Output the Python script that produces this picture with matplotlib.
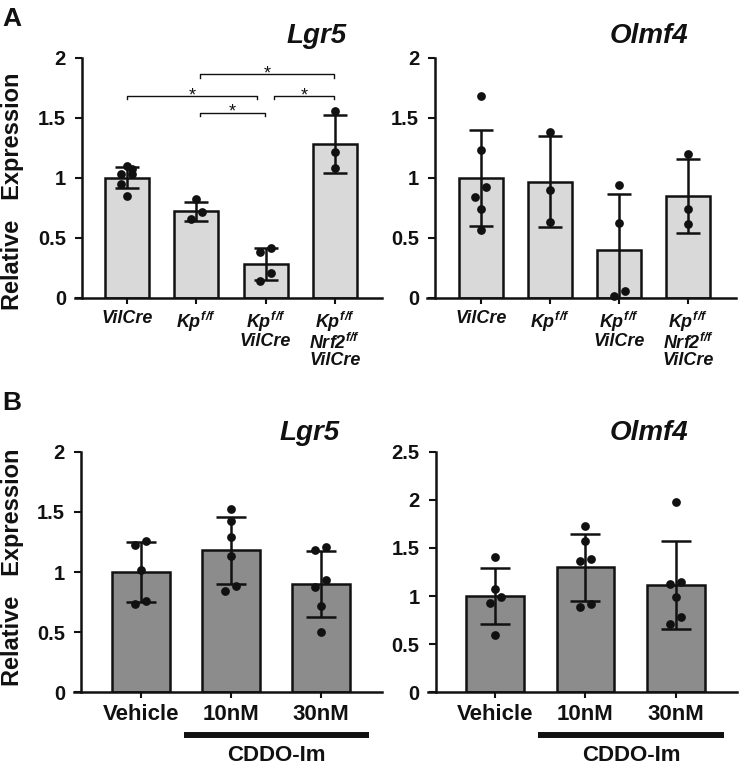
import matplotlib
matplotlib.use('Agg')
import matplotlib.pyplot as plt
import matplotlib.transforms as mtransforms
import numpy as np

plt.rcParams.update({
    'font.family': ['Liberation Sans', 'DejaVu Sans'],
    'mathtext.fontset': 'custom',
    'mathtext.rm': 'Liberation Sans:bold:italic',
    'mathtext.it': 'Liberation Sans:bold:italic',
    'mathtext.bf': 'Liberation Sans:bold:italic',
    'mathtext.sf': 'Liberation Sans:bold:italic',
})

# ---------------- data ----------------
a_groups = ['VilCre', '$Kp^{f/f}$', '$Kp^{f/f}$\nVilCre', '$Kp^{f/f}$\n$Nrf2^{f/f}$\nVilCre']
a_lgr5_mean = [1.00, 0.72, 0.28, 1.28]
a_lgr5_sd = [0.09, 0.08, 0.13, 0.245]
a_lgr5_pts = [[1.097, 1.069, 1.03, 1.027, 0.947, 0.85],
              [0.819, 0.716, 0.655],
              [0.411, 0.378, 0.203, 0.142],
              [1.557, 1.216, 1.082]]
a_lgr5_sig_pairs = [(1, 3), (0, 2), (2, 3), (1, 2)]
a_lgr5_sig_heights = [1.86, 1.68, 1.68, 1.54]

a_olmf4_mean = [1.00, 0.965, 0.40, 0.845]
a_olmf4_sd = [0.40, 0.38, 0.46, 0.31]
a_olmf4_pts = [[1.679, 1.227, 0.922, 0.836, 0.741, 0.564],
               [1.377, 0.897, 0.633],
               [0.938, 0.625, 0.056, 0.017],
               [1.196, 0.736, 0.616]]

b_groups = ['Vehicle', '10nM', '30nM']
b_lgr5_mean = [1.00, 1.18, 0.90]
b_lgr5_sd = [0.25, 0.28, 0.275]
b_lgr5_pts = [[1.26, 1.224, 1.014, 0.756, 0.734],
              [1.524, 1.424, 1.288, 1.133, 0.886, 0.845],
              [1.205, 1.183, 0.934, 0.873, 0.717, 0.501]]
b_olmf4_mean = [1.00, 1.30, 1.115]
b_olmf4_sd = [0.29, 0.35, 0.455]
b_olmf4_pts = [[1.403, 1.077, 0.994, 0.925, 0.595],
               [1.731, 1.575, 1.382, 1.364, 0.914, 0.889],
               [1.981, 1.146, 1.122, 0.994, 0.779, 0.706]]

a_yticks = [0, 0.5, 1, 1.5, 2]
a_yticklabels = ['0', '0.5', '1', '1.5', '2']
b_olmf4_yticks = [0, 0.5, 1, 1.5, 2, 2.5]
b_olmf4_yticklabels = ['0', '0.5', '1', '1.5', '2', '2.5']
treatment_label = 'CDDO-Im'

# ---------------- figure ----------------
W, H = 750, 771
fig = plt.figure(figsize=(W / 100, H / 100), dpi=100)
INK = '#111111'
LW = 1.8


def px_axes(l, t, r, b):
    return fig.add_axes([l / W, 1 - b / H, (r - l) / W, (b - t) / H])


def panel(ax, labels, means, sds, pts, xlim, ylim, yticks, yticklabels, spine_x,
          color, width, capsize, xfs, xstyle):
    x = np.arange(len(labels))
    ax.set_xlim(*xlim)
    ax.set_ylim(*ylim)
    ax.bar(x, means, width=width, color=color, edgecolor=INK, linewidth=LW, zorder=2)
    ax.errorbar(x, means, yerr=sds, fmt='none', ecolor=INK, elinewidth=LW,
                capsize=capsize, capthick=LW, zorder=3)
    # dot placement: pair close points side by side (swarm-like)
    bb = ax.get_position()
    xpx = bb.width * W / (xlim[1] - xlim[0])
    ypx = bb.height * H / (ylim[1] - ylim[0])
    thresh = 11.0
    off = 5.5 / xpx
    for i, vals in enumerate(pts):
        v = sorted(vals)
        xs, ys = [], []
        k = 0
        while k < len(v):
            if k + 1 < len(v) and (v[k + 1] - v[k]) * ypx < thresh:
                xs += [i - off, i + off]
                ys += [v[k], v[k + 1]]
                k += 2
            else:
                xs.append(i)
                ys.append(v[k])
                k += 1
        ax.plot(xs, ys, 'o', color=INK, markersize=6.3, markeredgewidth=0,
                zorder=4, clip_on=False)
    for s in ['top', 'right']:
        ax.spines[s].set_visible(False)
    ax.spines['left'].set_position(('data', spine_x))
    ax.spines['left'].set_bounds(ylim[0], ylim[1])
    for s in ['left', 'bottom']:
        ax.spines[s].set_linewidth(LW)
        ax.spines[s].set_color(INK)
    ax.set_yticks(yticks)
    ax.set_yticklabels(yticklabels, fontsize=14.5, fontweight='bold', color=INK)
    ax.set_xticks(x)
    ax.set_xticklabels(labels, fontsize=xfs, fontweight='bold', fontstyle=xstyle,
                       linespacing=0.95, color=INK)
    ax.tick_params(axis='y', length=5, width=1.5, pad=6.5, color=INK)
    ax.tick_params(axis='x', length=4.5, width=1.5, pad=4, color=INK)


# Panel A
axA1 = px_axes(75, 57.5, 382, 297.7)
panel(axA1, a_groups, a_lgr5_mean, a_lgr5_sd, a_lgr5_pts, (-0.75, 3.68), (0, 2),
      a_yticks, a_yticklabels, -0.65, '#d9d9d9', 0.635, 8.3, 13, 'italic')
axA2 = px_axes(427, 57.5, 736, 297.7)
panel(axA2, a_groups, a_olmf4_mean, a_olmf4_sd, a_olmf4_pts, (-0.776, 3.69), (0, 2),
      a_yticks, a_yticklabels, -0.66, '#d9d9d9', 0.635, 8.3, 13, 'italic')

# significance brackets on A Lgr5
ends = {}
for (g1, g2), h in zip(a_lgr5_sig_pairs, a_lgr5_sig_heights):
    ends.setdefault((g1, h), 0)
    ends.setdefault((g2, h), 0)
    ends[(g1, h)] += 1
    ends[(g2, h)] += 1
for (g1, g2), h in zip(a_lgr5_sig_pairs, a_lgr5_sig_heights):
    i1 = 0.12 if ends[(g1, h)] > 1 else (0.05 if g1 > 0 else 0.0)
    i2 = 0.12 if ends[(g2, h)] > 1 else 0.01
    x1, x2 = g1 + i1, g2 - i2
    axA1.plot([x1, x1, x2, x2], [h - 0.028, h, h, h - 0.028], color=INK, lw=1.0,
              clip_on=False, zorder=5)
    axA1.text((x1 + x2) / 2, h - 0.035, '*', ha='center', va='baseline', fontsize=13,
              color=INK)

# Panel B
axB1 = px_axes(74, 451.7, 382, 692.3)
panel(axB1, b_groups, b_lgr5_mean, b_lgr5_sd, b_lgr5_pts, (-0.744, 2.68), (0, 2),
      a_yticks, a_yticklabels, -0.667, '#8c8c8c', 0.64, 10.8, 16, 'normal')
axB2 = px_axes(428, 451.7, 737, 692.3)
panel(axB2, b_groups, b_olmf4_mean, b_olmf4_sd, b_olmf4_pts, (-0.746, 2.68), (0, 2.5),
      b_olmf4_yticks, b_olmf4_yticklabels, -0.661, '#8c8c8c', 0.64, 10.8, 16, 'normal')

for ax in (axB1, axB2):
    tr = mtransforms.blended_transform_factory(ax.transData, ax.transAxes)
    ax.plot([0.475, 2.54], [-0.176, -0.176], transform=tr, color=INK, lw=4.3,
            solid_capstyle='butt', clip_on=False)
    ax.text(1.51, -0.262, treatment_label, transform=tr, ha='center', va='center',
            fontsize=16, fontweight='bold', color=INK)

# titles
tkw = dict(fontsize=20, fontweight='bold', fontstyle='italic', ha='center', va='center',
           color=INK)
fig.text(316.7 / W, 1 - 36 / H, 'Lgr5', **tkw)
fig.text(649 / W, 1 - 36 / H, 'Olmf4', **tkw)
fig.text(310 / W, 1 - 433 / H, 'Lgr5', **tkw)
fig.text(649 / W, 1 - 433 / H, 'Olmf4', **tkw)

# y labels
ykw = dict(fontsize=17, fontweight='bold', rotation=90, ha='center', va='center',
           color=INK)
fig.text(13 / W, 1 - 191 / H, 'Relative   Expression', **ykw)
fig.text(13 / W, 1 - 567 / H, 'Relative   Expression', **ykw)

# panel letters
fig.text(12 / W, 1 - 19 / H, 'A', fontsize=19, fontweight='bold', ha='center',
         va='center', color=INK)
fig.text(12 / W, 1 - 403 / H, 'B', fontsize=19, fontweight='bold', ha='center',
         va='center', color=INK)

fig.savefig('out.png', dpi=100)
